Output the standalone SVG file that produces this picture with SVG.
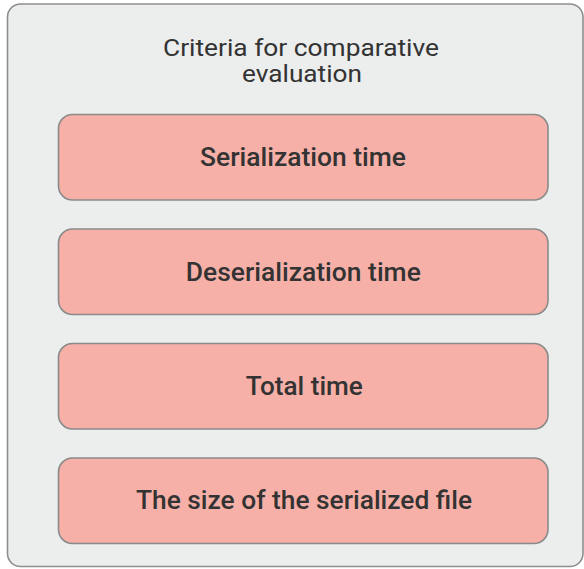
<svg xmlns="http://www.w3.org/2000/svg" width="584" height="569" viewBox="0 0 584 569">
  <style>
    .frame { fill: #eceded; stroke: #8e8e8e; stroke-width: 1.6; }
    .item { fill: #f7b0a7; stroke: #8a8a8a; stroke-width: 1.6; }
    .title { font-family: Roboto, "Liberation Sans", sans-serif; font-size: 24px; font-weight: 400; fill: #333333; text-anchor: middle; }
    .label { font-family: Roboto, "Liberation Sans", sans-serif; font-size: 25px; font-weight: 500; fill: #333333; text-anchor: middle; }
  </style>
  <rect width="584" height="569" fill="#ffffff"/>
  <g id="criteria">
    <rect class="frame" x="7.5" y="4" width="575.5" height="562.5" rx="13"/>
    <text class="title" x="301" y="55.5" textLength="276" lengthAdjust="spacingAndGlyphs">Criteria for comparative</text>
    <text class="title" x="302" y="82" textLength="120" lengthAdjust="spacingAndGlyphs">evaluation</text>
  </g>
  <g id="serialization-time">
    <rect class="item" x="58.5" y="114.5" width="489.5" height="85.5" rx="14"/>
    <text class="label" x="303" y="166" textLength="206" lengthAdjust="spacingAndGlyphs">Serialization time</text>
  </g>
  <g id="deserialization-time">
    <rect class="item" x="58.5" y="229" width="489.5" height="85.5" rx="14"/>
    <text class="label" x="303.3" y="280.5" textLength="235" lengthAdjust="spacingAndGlyphs">Deserialization time</text>
  </g>
  <g id="total-time">
    <rect class="item" x="58.5" y="343.5" width="489.5" height="85.5" rx="14"/>
    <text class="label" x="304.3" y="394.5" textLength="117" lengthAdjust="spacingAndGlyphs">Total time</text>
  </g>
  <g id="serialized-file-size">
    <rect class="item" x="58.5" y="458" width="489.5" height="85.5" rx="14"/>
    <text class="label" x="304" y="509" textLength="336" lengthAdjust="spacingAndGlyphs">The size of the serialized file</text>
  </g>
  <g id="connectors"/>
</svg>
